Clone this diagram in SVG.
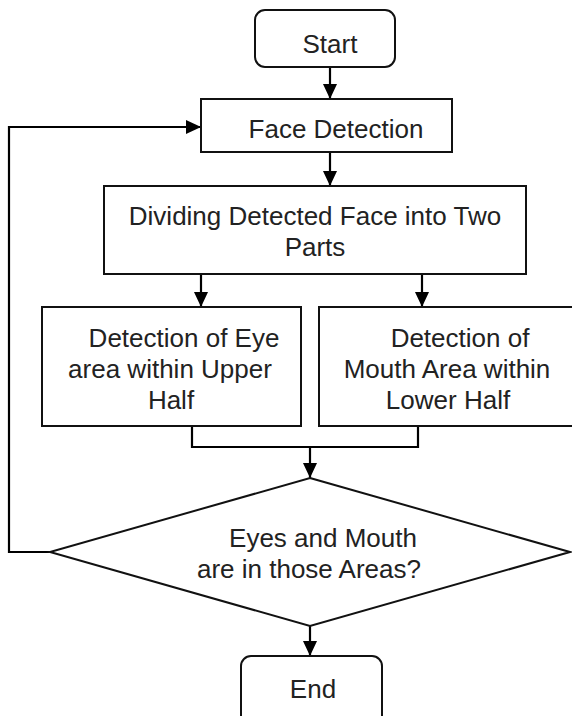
<svg xmlns="http://www.w3.org/2000/svg" width="572" height="716" viewBox="0 0 572 716">
<style>
.box{fill:#fff;stroke:#111;stroke-width:2}
.ln{fill:none;stroke:#000;stroke-width:2.2}
.t{font-family:"Liberation Sans",Arial,sans-serif;font-size:26px;fill:#222;text-anchor:middle}
</style>
<defs>
<marker id="ah" markerUnits="userSpaceOnUse" markerWidth="14" markerHeight="14" refX="15" refY="7" orient="auto">
<path d="M0,0 L15,7 L0,14 z" fill="#000"/>
</marker>
</defs>
<rect width="572" height="716" fill="#fff"/>
<g id="connectors">
<line class="ln" x1="330" y1="67" x2="330" y2="99" marker-end="url(#ah)"/>
<line class="ln" x1="330" y1="152" x2="330" y2="186" marker-end="url(#ah)"/>
<line class="ln" x1="201" y1="274" x2="201" y2="307" marker-end="url(#ah)"/>
<line class="ln" x1="422" y1="274" x2="422" y2="307" marker-end="url(#ah)"/>
<polyline class="ln" points="192,426 192,447 418,447 418,426"/>
<line class="ln" x1="310" y1="447" x2="310" y2="478" marker-end="url(#ah)"/>
<line class="ln" x1="310" y1="626" x2="310" y2="656" marker-end="url(#ah)"/>
<polyline class="ln" points="50,552 9,552 9,127 201,127" marker-end="url(#ah)"/>
</g>
<g id="start">
<rect class="box" x="255" y="10" width="140" height="57" rx="10"/>
<text class="t" x="330" y="53">Start</text>
</g>
<g id="face-detection">
<rect class="box" x="201" y="99" width="251" height="53"/>
<text class="t" x="336" y="138">Face Detection</text>
</g>
<g id="dividing">
<rect class="box" x="104" y="186" width="422" height="88"/>
<text class="t" x="315" y="225">Dividing Detected Face into Two</text>
<text class="t" x="315" y="256">Parts</text>
</g>
<g id="eye-detection">
<rect class="box" x="42" y="307" width="259" height="119"/>
<text class="t" x="184" y="347">Detection of Eye</text>
<text class="t" x="170" y="378">area within Upper</text>
<text class="t" x="171" y="409">Half</text>
</g>
<g id="mouth-detection">
<rect class="box" x="319" y="307" width="260" height="119"/>
<text class="t" x="460" y="347">Detection of</text>
<text class="t" x="447" y="378">Mouth Area within</text>
<text class="t" x="448" y="409">Lower Half</text>
</g>
<g id="decision">
<polygon class="box" points="310,478 570,552 310,626 50,552"/>
<text class="t" x="323" y="547">Eyes and Mouth</text>
<text class="t" x="309" y="578">are in those Areas?</text>
</g>
<g id="end">
<rect class="box" x="241" y="656" width="141" height="75" rx="10"/>
<text class="t" x="313" y="698">End</text>
</g>
</svg>
